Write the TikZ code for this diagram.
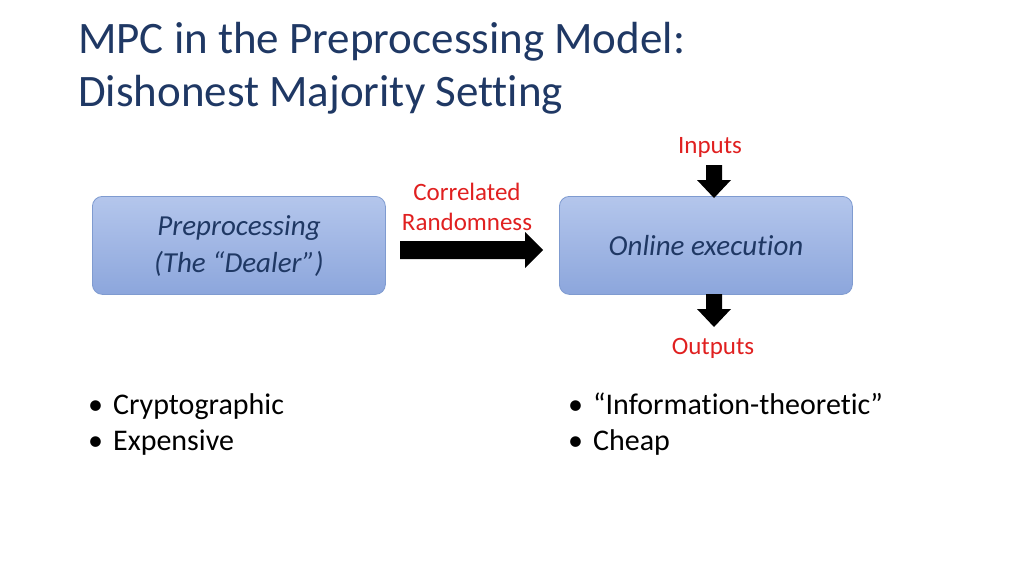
\documentclass[tikz,border=0pt]{standalone}
\usepackage{fontspec}
\setmainfont{Carlito}[Ligatures=NoCommon]
\definecolor{titleblue}{HTML}{1F3864}
\definecolor{boxtop}{HTML}{B4C6EC}
\definecolor{boxbot}{HTML}{8CA6DC}
\definecolor{boxedge}{HTML}{7F9BD0}
\definecolor{lbl}{HTML}{E02020}
\tikzset{
 px/.style={x=1pt,y=-1pt},
 bluebox/.style={draw=boxedge,line width=0.8pt,rounded corners=10pt,top color=boxtop,bottom color=boxbot,minimum width=293pt,minimum height=98pt,anchor=north west,inner sep=0pt},
 boxtext/.style={font=\fontsize{29}{37}\selectfont\itshape,text=titleblue,align=center},
 blockarrow/.style={fill=black},
 redlabel/.style={text=lbl,font=\fontsize{25}{30}\selectfont,align=center},
 bullets/.style={font=\fontsize{30}{36}\selectfont,anchor=north west,align=left,inner sep=0pt},
 titletext/.style={font=\fontsize{45}{53}\selectfont,text=titleblue,anchor=north west,align=left,inner sep=0pt}
}
\begin{document}
\begin{tikzpicture}[px]
\useasboundingbox (0,0) rectangle (1024,576);
\node[titletext] (title) at (78,22) {MPC in the Preprocessing Model:\\Dishonest Majority Setting};
\node[bluebox] (pre) at (92,196) {};
\node[boxtext] (pret) at (239,246) {Preprocessing\\(The “Dealer”)};
\node[bluebox] (onl) at (559,196) {};
\node[boxtext] (onlt) at (706,246) {Online execution};
\fill[blockarrow] (400,241) -- (525,241) -- (525,232) -- (543,250) -- (525,268) -- (525,259) -- (400,259) -- cycle;
\node[redlabel] (corr) at (467,207) {Correlated\\Randomness};
\node[redlabel] (inp) at (710,147) {Inputs};
\fill[blockarrow] (706,165) -- (722,165) -- (722,180) -- (731,180) -- (714,198) -- (697,180) -- (706,180) -- cycle;
\fill[blockarrow] (706,294) -- (722,294) -- (722,309) -- (731,309) -- (714,327) -- (697,309) -- (706,309) -- cycle;
\node[redlabel] (outp) at (713,348) {Outputs};
\node[bullets] (b1) at (88,393) {•\hspace{10pt}Cryptographic\\•\hspace{10pt}Expensive};
\node[bullets] (b2) at (568,393) {•\hspace{10pt}“Information-theoretic”\\•\hspace{10pt}Cheap};
\end{tikzpicture}
\end{document}
